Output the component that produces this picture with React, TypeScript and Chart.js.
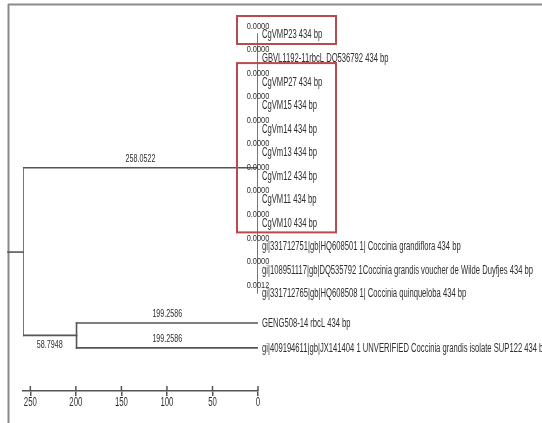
import React, { useEffect, useRef } from "react";
import { Chart, registerables } from "chart.js";

Chart.register(...registerables);

// ---------- data ----------
const leafNames = [
  "CgVMP23 434 bp",
  "GBVL1192-11rbcL DQ536792 434 bp",
  "CgVMP27 434 bp",
  "CgVM15 434 bp",
  "CgVm14 434 bp",
  "CgVm13 434 bp",
  "CgVm12 434 bp",
  "CgVM11 434 bp",
  "CgVM10 434 bp",
  "gi|331712751|gb|HQ608501 1| Coccinia grandiflora 434 bp",
  "gi|108951117|gb|DQ535792 1Coccinia grandis voucher de Wilde Duyfjes 434 bp",
  "gi|331712765|gb|HQ608508 1| Coccinia quinqueloba 434 bp",
  "GENG508-14 rbcL 434 bp",
  "gi|409194611|gb|JX141404 1 UNVERIFIED Coccinia grandis isolate SUP122 434 bp",
];
const leafRows = [1, 2, 3, 4, 5, 6, 7, 8, 9, 10, 11, 12, 13.27, 14.33];
const leafBranchLabels = [
  "0.0000", "0.0000", "0.0000", "0.0000", "0.0000", "0.0000",
  "0.0000", "0.0000", "0.0000", "0.0000", "0.0000", "0.0012", "", "",
];
const cladeALeaves = [0, 1, 2, 3, 4, 5, 6, 7, 8, 9, 10, 11];
const cladeBLeaves = [12, 13];
const rootHeight = 258.0522;
const branchA = 258.0522;
const branchB = 58.7948;
const cladeBLeafBranches = [199.2586, 199.2586];
const cladeARow = 6.68;
const cladeBRow = 13.8;
const rootRow = 10.26;
const rootStub = 16.5;
const scaleTicks = [250, 200, 150, 100, 50, 0];
const highlightGroups = [
  [0, 0],
  [2, 8],
];

// ---------- styles ----------
const LINE = "#555555";
const TEXT = "#2f2f2f";
const BOX = "#b84a50";

function scaledText(
  ctx: CanvasRenderingContext2D,
  text: string,
  x: number,
  y: number,
  size: number,
  sx: number,
  align: CanvasTextAlign,
  color: string
) {
  ctx.save();
  ctx.translate(x, y);
  ctx.scale(sx, 1);
  ctx.font = `${size}px 'Liberation Sans', Arial, sans-serif`;
  ctx.textAlign = align;
  ctx.textBaseline = "middle";
  ctx.fillStyle = color;
  ctx.fillText(text, 0, 0);
  ctx.restore();
}

const treePlugin = {
  id: "treeDecor",
  beforeDraw(chart: any) {
    const ctx = chart.ctx;
    ctx.save();
    ctx.fillStyle = "#ffffff";
    ctx.fillRect(0, 0, chart.width, chart.height);
    ctx.strokeStyle = "#8a8a8a";
    ctx.lineWidth = 2;
    ctx.beginPath();
    ctx.moveTo(8, 4.5);
    ctx.lineTo(chart.width, 4.5);
    ctx.moveTo(8.5, 4);
    ctx.lineTo(8.5, chart.height);
    ctx.stroke();
    ctx.restore();
  },
  afterDraw(chart: any) {
    const ctx = chart.ctx;
    const xs = chart.scales.x;
    const ys = chart.scales.y;
    const nodeA = rootHeight - branchA;
    const nodeB = rootHeight - branchB;

    // crossing tick marks (upper half) and condensed tick labels
    ctx.save();
    ctx.strokeStyle = LINE;
    ctx.lineWidth = 1.5;
    ctx.beginPath();
    xs.ticks.forEach((t: any) => {
      const px = xs.getPixelForValue(t.value);
      ctx.moveTo(px, xs.top - 5);
      ctx.lineTo(px, xs.top);
    });
    ctx.stroke();
    ctx.restore();
    xs.ticks.forEach((t: any) => {
      const px = xs.getPixelForValue(t.value);
      scaledText(ctx, String(t.value), px, xs.top + 11.5, 13, 0.6, "center", TEXT);
    });

    // leaf labels
    leafNames.forEach((name, i) => {
      const py = ys.getPixelForValue(leafRows[i]);
      scaledText(ctx, name, xs.getPixelForValue(0) + 4, py + 1, 12.5, 0.61, "left", TEXT);
      if (leafBranchLabels[i]) {
        scaledText(ctx, leafBranchLabels[i], xs.getPixelForValue(nodeA), py - 8, 9.5, 0.78, "center", TEXT);
      }
    });

    // internal branch labels
    const midA = (xs.getPixelForValue(rootHeight) + xs.getPixelForValue(nodeA)) / 2;
    scaledText(ctx, branchA.toFixed(4), midA, ys.getPixelForValue(cladeARow) - 8.5, 10.5, 0.68, "center", TEXT);
    const midB = (xs.getPixelForValue(rootHeight) + xs.getPixelForValue(nodeB)) / 2;
    scaledText(ctx, branchB.toFixed(4), midB, ys.getPixelForValue(cladeBRow) + 10, 10.5, 0.68, "center", TEXT);
    cladeBLeaves.forEach((li, k) => {
      const mid = (xs.getPixelForValue(nodeB) + xs.getPixelForValue(nodeB - cladeBLeafBranches[k])) / 2;
      scaledText(ctx, cladeBLeafBranches[k].toFixed(4), mid, ys.getPixelForValue(leafRows[li]) - 8.5, 10.5, 0.68, "center", TEXT);
    });

    // highlight boxes
    ctx.save();
    ctx.strokeStyle = BOX;
    ctx.lineWidth = 2;
    highlightGroups.forEach(([a, b]) => {
      const left = xs.getPixelForValue(0) - 21;
      const top = ys.getPixelForValue(leafRows[a]) - 18;
      const bottom = ys.getPixelForValue(leafRows[b]) + 10;
      ctx.strokeRect(left, top, 99, bottom - top);
    });
    ctx.restore();
  },
};

function seg(x1: number, y1: number, x2: number, y2: number, clip = true) {
  return {
    data: [
      { x: x1, y: y1 },
      { x: x2, y: y2 },
    ],
    borderColor: LINE,
    borderWidth: 1.6,
    borderCapStyle: "square" as const,
    pointRadius: 0,
    fill: false,
    tension: 0,
    clip: clip ? undefined : false,
  };
}

export default function App() {
  const ref = useRef<HTMLCanvasElement | null>(null);
  useEffect(() => {
    document.body.style.margin = "0";
    const nodeA = rootHeight - branchA;
    const nodeB = rootHeight - branchB;
    const aRows = cladeALeaves.map((i) => leafRows[i]);
    const datasets: any[] = [
      seg(rootHeight + rootStub, rootRow, rootHeight, rootRow, false),
      seg(rootHeight, cladeARow, rootHeight, cladeBRow),
      seg(rootHeight, cladeARow, nodeA, cladeARow),
      seg(rootHeight, cladeBRow, nodeB, cladeBRow),
      seg(nodeA, Math.min(...aRows), nodeA, Math.max(...aRows)),
      seg(nodeB, leafRows[cladeBLeaves[0]], nodeB, leafRows[cladeBLeaves[1]]),
      ...cladeBLeaves.map((li, k) =>
        seg(nodeB, leafRows[li], nodeB - cladeBLeafBranches[k], leafRows[li])
      ),
    ];
    const chart = new Chart(ref.current!, {
      type: "line",
      data: { datasets },
      plugins: [treePlugin],
      options: {
        animation: false,
        responsive: true,
        maintainAspectRatio: false,
        events: [],
        layout: { padding: { left: 23, right: 284, top: 10.45, bottom: 0 } },
        plugins: { legend: { display: false }, tooltip: { enabled: false } },
        scales: {
          x: {
            type: "linear",
            reverse: true,
            min: 0,
            max: rootHeight,
            afterBuildTicks: (s: any) => {
              s.ticks = scaleTicks.map((v) => ({ value: v }));
            },
            afterFit: (s: any) => {
              s.height = 32;
            },
            border: { display: true, color: LINE, width: 1.5 },
            grid: {
              drawOnChartArea: false,
              drawTicks: true,
              tickLength: 5,
              color: LINE,
              lineWidth: 1.5,
            },
            ticks: {
              display: false,
              autoSkip: false,
              maxRotation: 0,
            },
          },
          y: {
            type: "linear",
            display: false,
            reverse: true,
            min: 0,
            max: 16.16,
          },
        },
      },
    });
    return () => chart.destroy();
  }, []);
  return (
    <div style={{ position: "relative", width: "542px", height: "423px" }}>
      <canvas ref={ref} />
    </div>
  );
}
